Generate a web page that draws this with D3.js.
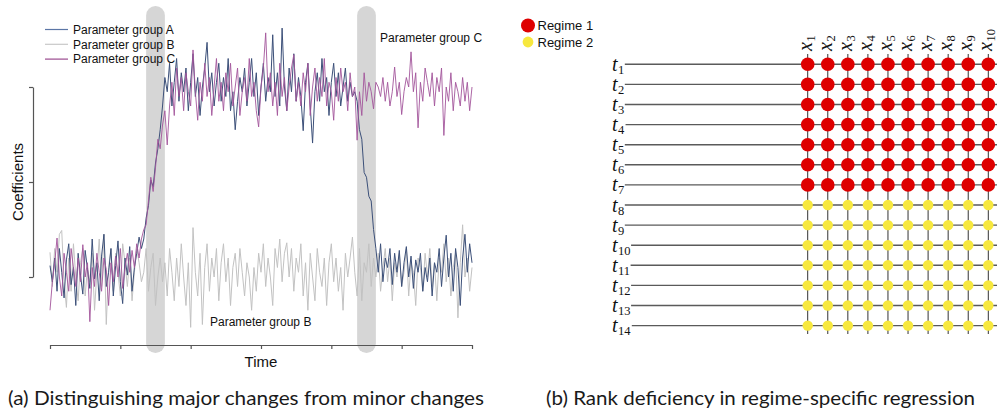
<!DOCTYPE html>
<html>
<head>
<meta charset="utf-8">
<script src="https://cdn.jsdelivr.net/npm/d3@7"></script>
<style>
  html, body { margin: 0; padding: 0; background: #fff; }
  svg { display: block; }
</style>
</head>
<body>
<svg id="fig" width="999" height="417"></svg>
<script>
// ---------- Panel (a): coefficient traces over time ----------
const groupA = [
  0.12, -0.05, 0.20, -0.15, 0.30, 0.05, -0.22, 0.18, 0.35, -0.08,
  0.10, -0.30, 0.25, 0.02, -0.18, 0.28, 0.08, -0.12, 0.40, -0.02,
  0.15, -0.25, 0.22, 0.45, -0.10, 0.05, 0.30, -0.20, 0.12, 0.38,
  -0.05, -0.28, 0.20, 0.02, 0.32, -0.15, 0.10, 0.25, 0.42, 0.30,
  0.40, 0.62, 0.75, 1.02, 0.95, 1.20, 1.35, 1.55, 1.80,
  2.10, 1.95, 2.25, 1.80, 2.05, 2.30, 1.85, 2.15, 1.95, 2.20,
  1.75, 2.05, 2.35, 1.90, 2.10, 1.70, 2.00, 2.20, 2.47, 1.95,
  2.15, 1.80, 2.05, 2.25, 1.85, 2.10, 1.90, 2.30, 1.75, 1.95,
  1.55, 1.85, 2.10, 1.95, 2.20, 1.80, 2.05, 2.30, 1.90, 2.15,
  1.70, 2.00, 2.25, 1.85, 2.10, 1.95, 2.55, 1.90, 2.15, 1.80,
  2.62, 2.00, 1.75, 2.20, 1.95, 2.35, 1.85, 2.10, 1.90, 1.54,
  2.05, 2.25, 1.80, 1.41, 1.95, 2.15, 1.85, 2.30, 1.95, 2.10,
  1.70, 2.05, 2.25, 1.90, 2.15, 1.80, 2.00, 2.20, 1.85, 2.05,
  1.90, 1.95,
  1.85, 1.55, 1.45, 1.10, 1.05, 0.85, 0.80, 0.50,
  0.30, 0.05, 0.35, -0.05, 0.20, 0.10, 0.30, -0.08, 0.25, 0.05,
  0.28, -0.10, 0.15, 0.32, 0.00, 0.22, -0.12, 0.18, 0.05, 0.25,
  -0.15, 0.10, -0.05, 0.20, -0.20, 0.15, 0.05, 0.30, -0.10, 0.20,
  0.44, 0.00, 0.25, -0.15, 0.30, 0.10, -0.30, 0.20, 0.45, 0.05,
  0.35, 0.15
];

const groupB = [
  0.26, -0.10, 0.30, 0.05, 0.45, 0.49, -0.05, -0.32, 0.20, -0.15,
  0.35, 0.00, -0.25, 0.15, 0.30, -0.20, 0.10, -0.05, 0.25, -0.35,
  0.05, 0.40, -0.10, 0.45, -0.50, 0.10, 0.30, -0.15, 0.25, 0.05,
  -0.20, 0.35, 0.15, -0.10, 0.20, -0.25, 0.05, 0.30, 0.15, -0.05,
  0.05, 0.30, -0.15, 0.10, 0.25, -0.30, 0.00, 0.20, -0.05,
  0.15, -0.20, 0.30, 0.05, -0.25, 0.20, -0.10, 0.35, 0.00, -0.30,
  0.15, -0.53, 0.52, 0.05, -0.20, 0.25, -0.50, 0.10, 0.35, -0.15,
  0.20, 0.00, 0.30, -0.25, 0.15, 0.35, -0.05, 0.20, -0.30, 0.10,
  0.25, -0.10, 0.30, 0.05, -0.20, 0.15, 0.00, -0.35, 0.10, -0.15,
  0.25, 0.05, 0.35, -0.10, 0.20, 0.00, -0.30, 0.30, 0.10, 0.40,
  -0.05, 0.25, 0.36, 0.00, 0.30, -0.15, 0.20, 0.05, 0.35, -0.20,
  0.15, -0.35, 0.25, 0.00, -0.25, 0.30, 0.05, -0.10, 0.20, -0.30,
  0.15, 0.35, -0.05, 0.20, -0.15, 0.10, -0.35, 0.25, 0.00, 0.20,
  0.42, 0.05,
  -0.20, 0.30, -0.25, 0.15, 0.05, 0.35, -0.10, 0.20, 0.00, 0.25,
  -0.15, 0.10, 0.30, -0.05, 0.20, -0.25, 0.15, 0.00, 0.25, -0.10,
  0.05, 0.30, -0.20, 0.15, 0.05, -0.30, 0.20, 0.10, -0.15, 0.25,
  0.00, 0.30, -0.10, 0.15, -0.25, 0.20, 0.05, 0.35, -0.05, 0.20,
  -0.20, 0.10, 0.25, -0.43, 0.15, 0.55, 0.00, 0.20, -0.15, 0.10
];

const groupC = [
  -0.35, -0.05, 0.15, 0.41, 0.00, -0.20, 0.25, 0.05, -0.15, 0.30,
  0.10, -0.10, 0.20, -0.05, 0.34, 0.00, 0.15, -0.47, 0.10, -0.10,
  0.25, 0.05, -0.15, 0.20, 0.08, -0.30, 0.15, -0.05, 0.22, 0.00,
  0.30, -0.12, 0.10, 0.25, 0.05, 0.28, 0.10, 0.35, 0.20, 0.40,
  0.50, 0.55, 0.80, 1.05, 0.90, 1.15, 1.45, 1.35, 1.60,
  1.75, 1.39, 1.80, 2.05, 1.70, 2.20, 1.90, 2.10, 1.75, 2.15,
  1.95, 1.80, 2.39, 1.95, 1.65, 2.05, 1.85, 2.25, 1.90, 2.10,
  1.70, 2.00, 2.30, 1.85, 2.05, 1.75, 2.15, 1.95, 2.25, 1.80,
  2.00, 2.20, 1.70, 1.95, 2.10, 1.85, 2.30, 1.90, 2.05, 1.75,
  1.58, 2.00, 2.20, 2.57, 1.95, 2.15, 1.80, 2.05, 1.70, 2.25,
  1.90, 2.10, 1.75, 2.00, 2.20, 2.34, 1.85, 2.05, 1.80, 2.15,
  1.95, 2.25, 1.70, 2.00, 2.20, 1.85, 2.10, 1.90, 2.30, 1.80,
  2.05, 1.95, 1.65, 2.10, 1.85, 2.20, 1.95, 2.05, 1.75, 2.15,
  1.90, 2.00,
  1.44, 1.95, 1.70, 2.15, 1.85, 2.05, 1.95, 1.77, 2.05, 2.00,
  1.90, 2.10, 1.85, 2.05, 1.80, 1.95, 2.21, 1.90, 2.05, 1.71,
  1.95, 2.10, 2.00, 2.37, 1.95, 2.15, 1.57, 2.05, 1.85, 2.20,
  2.05, 1.90, 2.15, 1.80, 2.10, 1.95, 2.20, 1.49, 2.00, 1.85,
  2.15, 1.75, 2.05, 1.95, 1.80, 2.10, 1.85, 2.05, 1.75, 2.00
];

// time windows (start, end index) of the two structural shifts
const shiftWindows = [[41, 49], [131, 139]];
const timeTicks = [0, 30, 60, 90, 120, 150, 180];
const coefTicks = [0, 1, 2];

const seriesNames = ["Parameter group A", "Parameter group B", "Parameter group C"];
const seriesColors = ["#3c5079", "#c2c2c2", "#a3559b"];
const legendColors = ["#5b76a6", "#c8c8c8", "#9a4a8f"];

// ---------- Panel (b): regime grid ----------
const timeLabels = ["1","2","3","4","5","6","7","8","9","10","11","12","13","14"];
const varLabels = ["1","2","3","4","5","6","7","8","9","10"];
const rowRegime = [1,1,1,1,1,1,1,2,2,2,2,2,2,2];
const regimeNames = ["Regime 1", "Regime 2"];
const regimeColors = ["#de0000", "#f7e83e"];

const captions = [
  "(a) Distinguishing major changes from minor changes",
  "(b) Rank deficiency in regime-specific regression"
];

const svg = d3.select("#fig");
const sans = "'Liberation Sans', Arial, Helvetica, sans-serif";
const serif = "'Liberation Serif', 'Times New Roman', serif";

// ===== Panel (a) =====
const N = groupA.length;
const x = d3.scaleLinear().domain([0, N - 1]).range([50, 472]);
const y = d3.scaleLinear().domain([0, 2]).range([277, 87]);

const pa = svg.append("g");

// shaded shift windows
pa.selectAll("rect.shift").data(shiftWindows).join("rect")
  .attr("class", "shift")
  .attr("x", d => x(d[0]))
  .attr("width", d => x(d[1]) - x(d[0]))
  .attr("y", 6).attr("height", 347)
  .attr("rx", (x(49) - x(41)) / 2)
  .attr("fill", "#d6d6d6");

const line = d3.line().x((d, i) => x(i)).y(d => y(d));
const drawOrder = [[groupB, 1], [groupA, 0], [groupC, 2]];
drawOrder.forEach(([vals, k]) => {
  pa.append("path")
    .datum(vals)
    .attr("d", line)
    .attr("fill", "none")
    .attr("stroke", seriesColors[k])
    .attr("stroke-width", 1)
    .attr("stroke-linejoin", "round")
    .attr("opacity", k === 2 ? 0.9 : 1);
});

// axes
const yAxis = d3.axisLeft(y).tickValues(coefTicks).tickFormat("").tickSize(4).tickSizeOuter(0);
const xAxis = d3.axisBottom(x).tickValues(timeTicks).tickFormat("").tickSize(4).tickSizeOuter(0);
const ga = pa.append("g").attr("transform", "translate(33,0)").call(yAxis);
const gx = pa.append("g").attr("transform", "translate(0,345)").call(xAxis);
[ga, gx].forEach(g => {
  g.selectAll("path, line").attr("stroke", "#555").attr("stroke-width", 1.2);
});

pa.append("text")
  .attr("transform", "translate(23,182) rotate(-90)")
  .attr("text-anchor", "middle")
  .attr("font-family", sans).attr("font-size", 15)
  .attr("fill", "#111")
  .text("Coefficients");

pa.append("text")
  .attr("x", x(90)).attr("y", 367)
  .attr("text-anchor", "middle")
  .attr("font-family", sans).attr("font-size", 15)
  .attr("fill", "#111")
  .text("Time");

// legend
const leg = pa.append("g");
seriesNames.forEach((name, k) => {
  const ly = 29.5 + k * 14.8;
  leg.append("line").attr("x1", 45).attr("x2", 68).attr("y1", ly).attr("y2", ly)
    .attr("stroke", legendColors[k]).attr("stroke-width", 1.2);
  leg.append("text").attr("x", 73).attr("y", ly + 4.3)
    .attr("font-family", sans).attr("font-size", 12).attr("fill", "#111")
    .text(name);
});

// inline series annotations
pa.append("text").attr("x", 380).attr("y", 41.5)
  .attr("font-family", sans).attr("font-size", 12).attr("fill", "#111")
  .text(seriesNames[2]);
pa.append("text").attr("x", 210).attr("y", 326)
  .attr("font-family", sans).attr("font-size", 12).attr("fill", "#111")
  .text(seriesNames[1]);

// ===== Panel (b) =====
const pb = svg.append("g");
const cx = d3.scalePoint().domain(varLabels).range([807.7, 988.3]);
const ry = d3.scalePoint().domain(timeLabels).range([64.3, 325.6]);

// row labels t_i
const rowText = pb.selectAll("text.row").data(timeLabels).join("text")
  .attr("class", "row")
  .attr("x", 612).attr("y", d => ry(d) + 6.5)
  .attr("font-family", serif).attr("fill", "#111");
rowText.append("tspan").attr("font-style", "italic").attr("font-size", 20).text("t");
rowText.append("tspan").attr("font-size", 12.5).attr("dy", 3).attr("dx", 0.5).text(d => d);

// horizontal rows
pb.selectAll("line.hrow").data(timeLabels).join("line")
  .attr("class", "hrow")
  .attr("x1", (d, i) => rowText.nodes()[i].getBBox().x + rowText.nodes()[i].getBBox().width + 0.5)
  .attr("x2", 997)
  .attr("y1", d => ry(d)).attr("y2", d => ry(d))
  .attr("stroke", "#5a5a5a").attr("stroke-width", 1.4);

// vertical columns
pb.selectAll("line.vcol").data(varLabels).join("line")
  .attr("class", "vcol")
  .attr("x1", d => cx(d)).attr("x2", d => cx(d))
  .attr("y1", 54).attr("y2", 334)
  .attr("stroke", "#333").attr("stroke-width", 1);

// column labels x_j (rotated)
const colText = pb.selectAll("text.col").data(varLabels).join("text")
  .attr("class", "col")
  .attr("transform", d => `translate(${cx(d) + 4},51) rotate(-90)`)
  .attr("font-family", serif).attr("fill", "#111");
colText.append("tspan").attr("font-style", "italic").attr("font-size", 20).text("x");
colText.append("tspan").attr("font-size", 12.5).attr("dy", 3).attr("dx", 0.5).text(d => d);

// cells
const cells = [];
timeLabels.forEach((t, i) => varLabels.forEach(v => cells.push({ t, v, r: rowRegime[i] })));
pb.selectAll("circle.cell").data(cells).join("circle")
  .attr("class", "cell")
  .attr("cx", d => cx(d.v)).attr("cy", d => ry(d.t))
  .attr("r", d => d.r === 1 ? 6.8 : 5.2)
  .attr("fill", d => regimeColors[d.r - 1]);

// regime legend
regimeNames.forEach((name, k) => {
  const ly = 25.5 + k * 16.5;
  pb.append("circle").attr("cx", 528).attr("cy", ly).attr("r", k === 0 ? 7 : 5.4)
    .attr("fill", regimeColors[k]);
  pb.append("text").attr("x", 537.5).attr("y", ly + 4.6)
    .attr("font-family", sans).attr("font-size", 13).attr("fill", "#111")
    .text(name);
});

// ===== Captions =====
const capPos = [[8, 476], [546, 429]];
captions.forEach((c, k) => {
  svg.append("text")
    .attr("x", capPos[k][0]).attr("y", 405)
    .attr("font-family", "Lato, 'Open Sans', sans-serif").attr("font-size", 19)
    .attr("fill", "#1a1a1a")
    .attr("textLength", capPos[k][1]).attr("lengthAdjust", "spacingAndGlyphs")
    .text(c);
});
</script>
</body>
</html>
